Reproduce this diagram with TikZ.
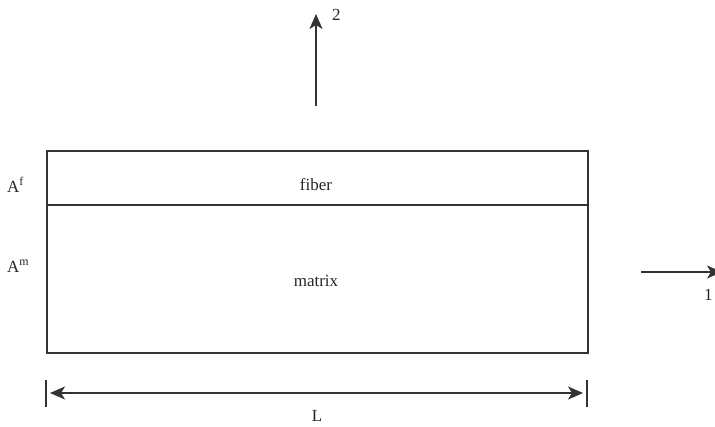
\documentclass[tikz,border=0pt]{standalone}
\usepackage{fontspec}
\setmainfont{Liberation Serif}
\usetikzlibrary{arrows.meta}
\begin{document}
\begin{tikzpicture}[x=1pt,y=-1pt,
  line/.style={draw=black!80, line width=1.7pt},
  arr/.style={line, -{Stealth[length=15pt,width=13pt,inset=4pt]}},
  lbl/.style={inner sep=0pt, anchor=base, font=\fontsize{17}{20}\selectfont, text=black!85}]
\useasboundingbox (0,0) rectangle (715,426);
% layers
\node[line, rectangle, minimum width=541pt, minimum height=54pt, inner sep=0pt, anchor=north west] (fib) at (46,150) {};
\node[line, rectangle, minimum width=541pt, minimum height=148pt, inner sep=0pt, anchor=north west] (mat) at (46,204) {};
\node[lbl] (tf) at (316,190) {fiber};
\node[lbl] (tm) at (316,286) {matrix};
% area labels
\node[lbl, anchor=base west] (af) at (7,192) {A\textsuperscript{f}};
\node[lbl, anchor=base west] (am) at (7,272) {A\textsuperscript{m}};
% axis 2
\coordinate (b2) at (316,106);
\coordinate (t2) at (316,14);
\draw[arr] (b2) -- (t2);
\node[lbl, anchor=base west] (n2) at (332,20) {2};
% axis 1
\coordinate (b1) at (641,272);
\coordinate (t1) at (722,272);
\draw[arr] (b1) -- (t1);
\node[lbl, anchor=base west] (n1) at (704,300) {1};
% dimension L
\coordinate (lt1) at (46,380);
\coordinate (lb1) at (46,407);
\coordinate (rt1) at (587,380);
\coordinate (rb1) at (587,407);
\draw[line] (lt1) -- (lb1);
\draw[line] (rt1) -- (rb1);
\coordinate (la) at (50,393);
\coordinate (ra) at (583,393);
\draw[line, {Stealth[length=15pt,width=13pt,inset=4pt]}-{Stealth[length=15pt,width=13pt,inset=4pt]}] (la) -- (ra);
\node[lbl] (nL) at (317,421) {L};
\end{tikzpicture}
\end{document}
